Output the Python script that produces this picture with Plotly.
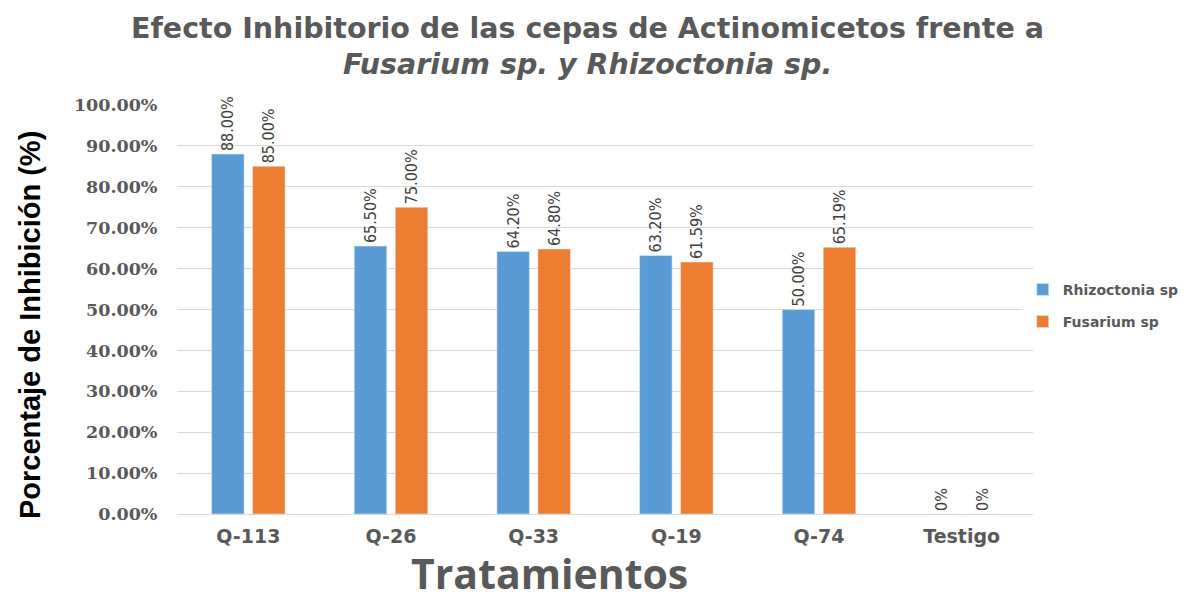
import plotly.graph_objects as go

categories = ["Q-113", "Q-26", "Q-33", "Q-19", "Q-74", "Testigo"]
rhizoctonia = [88.00, 65.50, 64.20, 63.20, 50.00, 0]
fusarium = [85.00, 75.00, 64.80, 61.59, 65.19, 0]
rhizo_labels = ["88.00%", "65.50%", "64.20%", "63.20%", "50.00%", "0%"]
fus_labels = ["85.00%", "75.00%", "64.80%", "61.59%", "65.19%", "0%"]
y_ticks = [0, 10, 20, 30, 40, 50, 60, 70, 80, 90, 100]
y_ticklabels = ["%.2f%%" % v for v in y_ticks]

label_font = dict(family="DejaVu Sans Condensed, Liberation Sans Narrow, sans-serif", size=16, color="#404040")

fig = go.Figure()
fig.add_trace(go.Bar(
    name="<b>Rhizoctonia sp</b>", x=categories, y=rhizoctonia, legendgroup="a",
    marker_color="#5B9BD5", text=rhizo_labels, textposition="outside",
    textangle=-90, textfont=label_font, cliponaxis=False, constraintext="none",
))
fig.add_trace(go.Bar(
    name="<b>Fusarium sp</b>", x=categories, y=fusarium, legendgroup="b",
    marker_color="#ED7D31", text=fus_labels, textposition="outside",
    textangle=-90, textfont=label_font, cliponaxis=False, constraintext="none",
))

title_font = dict(family="DejaVu Sans, sans-serif", size=28.5, color="#595959")
PW = 856.0  # plot width in px (for paper coords of annotations)

fig.update_layout(
    width=1178, height=586,
    paper_bgcolor="white", plot_bgcolor="white",
    margin=dict(l=169, r=153, t=97, b=80, autoexpand=False),
    barmode="group", bargap=0.425, bargroupgap=0.207,
    legend=dict(
        x=0.988, xanchor="left", y=0.509, yanchor="middle",
        font=dict(family="DejaVu Sans, sans-serif", size=14, color="#595959"),
        traceorder="grouped", tracegroupgap=11, itemwidth=30,
    ),
    annotations=[
        dict(text="<b>Efecto Inhibitorio de las cepas de Actinomicetos frente a</b>",
             xref="paper", yref="paper", x=(579.5 - 169) / PW, y=1.188,
             xanchor="center", yanchor="middle", showarrow=False, font=title_font),
        dict(text="<b><i>Fusarium sp. y Rhizoctonia sp.</i></b>",
             xref="paper", yref="paper", x=(579.5 - 169) / PW, y=1.098,
             xanchor="center", yanchor="middle", showarrow=False, font=title_font),
        dict(text="<b>Porcentaje de Inhibición (%)</b>", textangle=-90,
             xref="paper", yref="paper", x=(22 - 169) / PW, y=0.462,
             xanchor="center", yanchor="middle", showarrow=False,
             font=dict(family="Liberation Sans, Arial, sans-serif", size=29, color="black")),
        dict(text="<b>Tratamientos</b>",
             xref="paper", yref="paper", x=(541 - 169) / PW, y=-0.2152,
             xanchor="center", yanchor="bottom", showarrow=False, borderpad=0,
             font=dict(family="Open Sans, DejaVu Sans, sans-serif", size=41, color="#595959")),
    ],
)
fig.update_yaxes(
    range=[0, 100], tickvals=y_ticks, ticktext=["<b>%s</b>" % t for t in y_ticklabels],
    tickfont=dict(family="DejaVu Serif, Liberation Serif, serif", size=17.5, color="#595959"),
    showgrid=True, gridcolor="#D9D9D9", gridwidth=1, zeroline=False,
    showline=False, ticks="outside", ticklen=15, tickcolor="rgba(0,0,0,0)",
    automargin=False,
)
fig.update_xaxes(
    tickvals=categories, ticktext=["<b>%s</b>" % c for c in categories],
    tickfont=dict(family="DejaVu Sans, sans-serif", size=19, color="#595959"),
    showline=True, linecolor="#D9D9D9", linewidth=1,
    ticks="outside", ticklen=5, tickcolor="rgba(0,0,0,0)",
    automargin=False,
)

fig.write_html("out.html")
